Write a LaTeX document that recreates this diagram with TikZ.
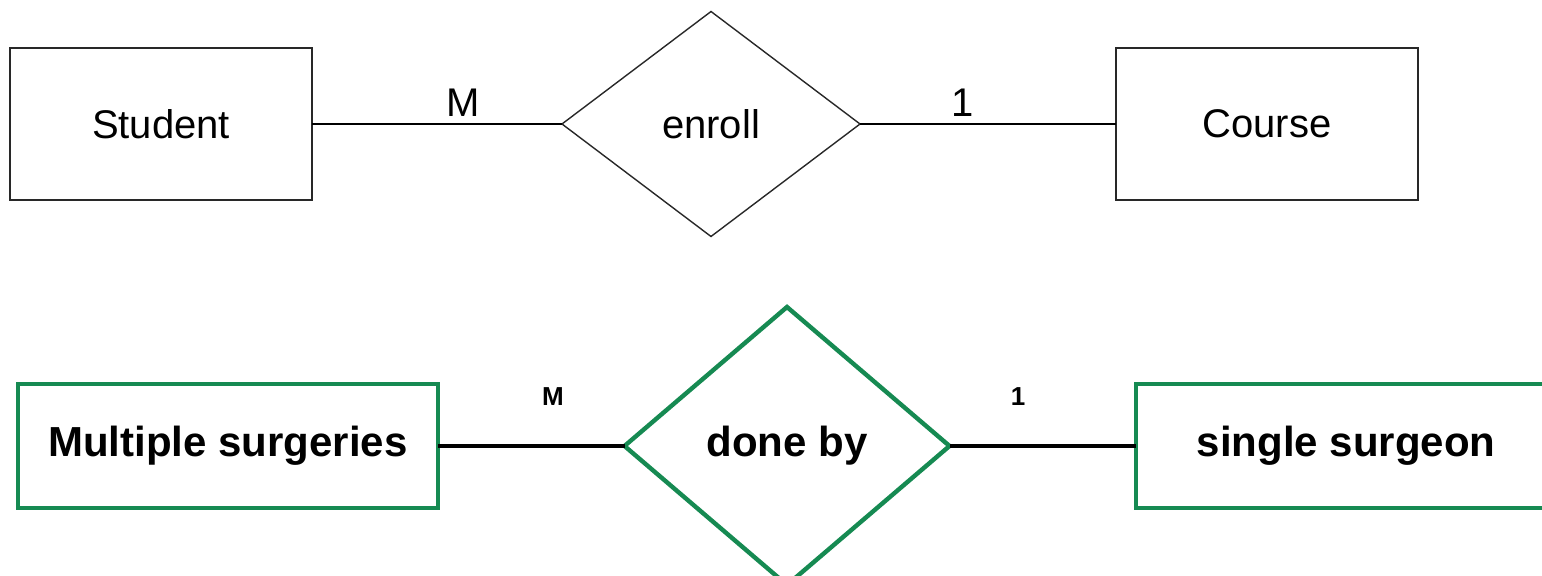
\documentclass[tikz,border=0pt]{standalone}
\usepackage{fontspec}
\setmainfont{Liberation Sans}
\usetikzlibrary{shapes.geometric}
\definecolor{ergreen}{RGB}{22,138,82}
\definecolor{erline}{RGB}{40,40,40}
\tikzset{
  ent/.style={draw=erline, line width=1.2pt, rectangle, inner sep=0pt, outer sep=0pt,
    minimum width=151pt, minimum height=76pt, font=\fontsize{20}{24}\selectfont},
  rel/.style={draw=erline, line width=0.7pt, diamond, inner sep=0pt, outer sep=0pt,
    minimum width=149pt, minimum height=112.5pt, font=\fontsize{20}{24}\selectfont},
  gent/.style={draw=ergreen, line width=1.6pt, rectangle, inner sep=0pt, outer sep=0pt,
    minimum width=210pt, minimum height=62pt, font=\fontsize{21}{25}\selectfont\bfseries},
  grel/.style={draw=ergreen, line width=2.2pt, diamond, inner sep=0pt, outer sep=0pt,
    minimum width=162.5pt, minimum height=139pt, font=\fontsize{21}{25}\selectfont\bfseries},
  conn/.style={draw=black, line width=1.1pt},
  gconn/.style={draw=black, line width=1.8pt},
  card/.style={font=\fontsize{20}{24}\selectfont, inner sep=0pt},
  gcard/.style={font=\fontsize{13}{16}\selectfont\bfseries, inner sep=0pt}
}
\begin{document}
\begin{tikzpicture}[x=0.5pt,y=-0.5pt]
\useasboundingbox (0,0) rectangle (1542,576);
% top row
\node[ent] (student) at (161,124) {Student};
\node[rel] (enroll) at (711,124) {enroll};
\node[ent] (course) at (1267,124) {Course};
\draw[conn] (student) -- (enroll);
\draw[conn] (enroll) -- (course);
\node[card] (m1) at (463,103) {M};
\node[card] (o1) at (963,103) {1};
% bottom row
\node[gent] (multi) at (228,446) {Multiple surgeries};
\node[grel] (doneby) at (787,446) {done by};
\node[gent] (single) at (1346,446) {single surgeon};
\draw[gconn] (multi) -- (doneby);
\draw[gconn] (doneby) -- (single);
\node[gcard] (m2) at (553,397) {M};
\node[gcard] (o2) at (1018,397) {1};
\end{tikzpicture}
\end{document}
